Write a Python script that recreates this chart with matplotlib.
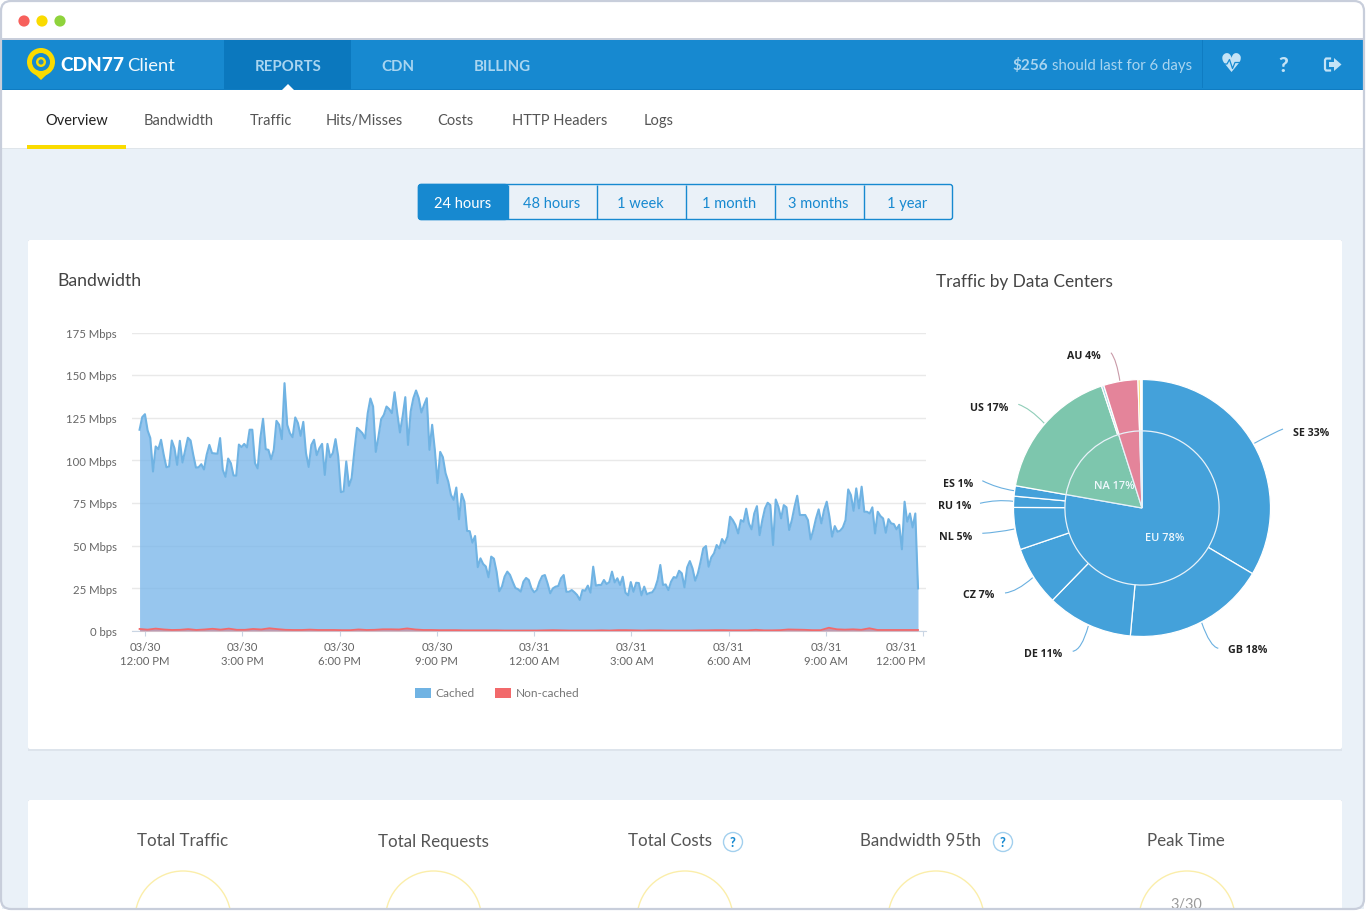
import numpy as np
import matplotlib
matplotlib.use("Agg")
import matplotlib.pyplot as plt
from matplotlib.patches import Rectangle, Circle, FancyBboxPatch, PathPatch, Polygon, Patch
from matplotlib.path import Path
from matplotlib.transforms import ScaledTranslation

W, H = 1366, 911
FONT = "Lato"
plt.rcParams["font.family"] = [FONT, "DejaVu Sans"]

# ---------------- data ----------------
cached_mbps = [
118.0,125.4,127.1,117.6,113.1,93.5,108.2,106.6,112.1,103.3,96.0,96.4,111.7,107.2,97.4,111.5,98.8,106.2,113.3,111.7,
103.3,95.8,96.0,97.8,94.7,103.3,109.1,104.3,104.1,103.9,113.1,94.5,90.4,101.1,98.4,91.2,91.0,109.3,107.8,109.7,
107.6,118.0,118.0,98.4,95.3,113.1,124.4,106.6,106.2,100.7,106.2,123.2,120.9,112.5,145.3,120.9,116.0,113.6,125.2,121.9,
114.4,122.6,104.3,96.2,109.1,112.1,103.1,107.2,109.7,91.5,109.7,101.9,104.3,112.5,102.3,81.4,81.8,99.4,85.1,89.6,
105.2,119.1,117.6,116.0,112.9,127.7,136.3,131.6,105.0,114.0,124.2,126.7,131.6,130.1,127.7,140.0,127.7,116.4,125.8,137.1,
109.1,128.7,136.5,141.0,136.5,128.1,132.6,136.5,106.2,120.9,106.2,86.7,105.0,101.9,92.5,87.6,79.8,76.9,84.1,65.5,
80.4,75.9,58.7,58.5,51.8,55.7,37.4,42.6,39.3,37.8,31.5,43.6,42.4,34.8,23.3,26.0,31.9,34.8,32.9,28.9,
25.2,24.5,23.1,28.9,31.1,
29.9,25.0,22.7,24.0,28.9,32.2,32.8,27.9,22.1,25.0,26.0,26.4,30.9,32.8,23.0,23.0,24.0,22.7,21.1,18.2,
24.0,23.6,26.6,22.5,37.7,26.6,27.0,27.0,29.9,27.5,28.7,34.8,28.5,30.9,27.0,31.8,22.5,20.9,28.7,23.0,
28.3,28.1,20.9,26.0,21.5,22.3,22.7,25.0,29.9,38.7,27.0,27.3,24.0,28.9,31.6,31.2,35.3,33.8,25.6,37.3,
41.0,36.7,29.5,33.8,40.6,48.4,49.8,37.7,43.2,45.5,50.4,48.4,53.9,51.4,55.3,67.0,65.0,62.1,57.2,65.0,
64.1,71.7,63.1,59.6,68.9,73.2,56.2,65.0,71.9,75.2,73.8,50.4,77.1,72.8,66.0,73.8,72.5,59.2,65.0,72.8,
79.3,68.0,68.0,68.0,65.0,53.7,59.2,66.0,71.3,63.1,70.9,75.8,67.0,55.3,61.5,58.2,58.8,60.7,65.0,83.0,
79.7,70.5,83.6,71.9,84.6,69.9,69.9,68.9,72.5,57.2,69.9,67.4,66.0,57.6,65.6,63.1,62.7,59.6,62.3,47.9,
75.8,64.1,68.9,60.7,68.9,25.0]

noncached_mbps = [
1.2,.8,1.4,.9,.6,.7,1.1,.6,.9,1.3,.8,1.4,.7,.7,1.2,.9,1.6,1.1,.7,.6,.6,.8,.6,.6,.6,.5,.5,.9,.6,.7,1.0,1.0,.9,1.5,.9,
.6,.6,.5,.5,.5,.4,.4,.4,.4,.4,.3,.3,.3,.3,
.3,.4,.5,.4,.3,.3,.3,.3,.4,.3,.5,.5,.4,.3,.4,.4,.3,.3,.3,.3,.4,.4,.5,.5,.4,.4,.4,.7,.4,.4,.5,.9,.8,.7,.5,.5,1.9,1.0,
.8,1.0,.7,1.6,.6,.6,.6,.6,.6,.6]

first_minute, last_minute = -10, 1430       # minutes after 03/30 12:00 PM
tick_minutes = [0, 180, 360, 540, 720, 900, 1080, 1260, 1440]
tick_labels = ["03/30\n12:00 PM", "03/30\n3:00 PM", "03/30\n6:00 PM", "03/30\n9:00 PM", "03/31\n12:00 AM",
               "03/31\n3:00 AM", "03/31\n6:00 AM", "03/31\n9:00 AM", "03/31\n12:00 PM"]
y_ticks = [0, 25, 50, 75, 100, 125, 150, 175]
y_labels = ["0 bps", "25 Mbps", "50 Mbps", "75 Mbps", "100 Mbps", "125 Mbps", "150 Mbps", "175 Mbps"]

region_names = ["EU 78%", "NA 17%", "AU", "AF", "rest"]
region_share = [77.8, 17.3, 4.4, 0.3, 0.2]
center_names = ["SE 33%", "GB 18%", "DE 11%", "CZ 7%", "NL 5%", "RU 1%", "ES 1%", "US 17%", "CA", "AU 4%", "ZA", "rest"]
center_share = [33.5, 17.9, 10.8, 7.5, 5.3, 1.4, 1.3, 17.1, 0.3, 4.3, 0.3, 0.2]

periods = ["24 hours", "48 hours", "1 week", "1 month", "3 months", "1 year"]
subnav = ["Overview", "Bandwidth", "Traffic", "Hits/Misses", "Costs", "HTTP Headers", "Logs"]
kpis = ["Total Traffic", "Total Requests", "Total Costs", "Bandwidth 95th", "Peak Time"]

# ---------------- colours ----------------
BLUE, BLUE_D = "#1789d0", "#0b78be"
NAV_TXT = "#a9d5f0"
PAGE = "#eaf1f8"
PIE_BLUE, PIE_GREEN, PIE_PINK, PIE_YEL = "#44a1da", "#7dc6ad", "#e4849a", "#f5dc6e"

fig = plt.figure(figsize=(W / 100, H / 100), dpi=100, facecolor="white")
page = fig.add_axes([0, 0, 1, 1], zorder=0)
page.set_xlim(0, W); page.set_ylim(H, 0); page.axis("off")

def px_axes(l, t, r, b, **kw):
    return fig.add_axes([l / W, 1 - b / H, (r - l) / W, (b - t) / H], **kw)

def rect(x0, y0, x1, y1, c, z=1, **kw):
    page.add_patch(Rectangle((x0, y0), x1 - x0, y1 - y0, fc=c, ec="none", zorder=z, **kw))

def txt(x, y, s, size_px, c="#444444", ha="left", weight="normal", z=5, family=None):
    return page.text(x, y, s, fontsize=size_px * 0.72, color=c, ha=ha, va="center_baseline", fontweight=weight, zorder=z,
                     family=family if family else [FONT, "DejaVu Sans"])

# window chrome
rect(2, 2, 1364, 38, "white")
rect(2, 38, 1364, 40, "#c8cedb")
rect(2, 149, 1364, 909, PAGE)
rect(2, 40, 1364, 90, BLUE)
rect(2, 88.5, 1364, 90, "#0f7cc2", z=2)
rect(2, 90, 1364, 148, "white")
rect(2, 148, 1364, 149, "#dfe5ea")
rect(224, 40, 351, 89, BLUE_D, z=2)
page.add_patch(Polygon([(282, 90), (288, 84), (294, 90)], fc="white", ec="none", zorder=3))
rect(1202, 40, 1203, 88, "#0f7cc2", z=2)

for x, c in zip([24, 42, 60], ["#f7605c", "#fadb00", "#8fd33c"]):
    page.add_patch(Circle((x, 21), 5.6, fc=c, ec="none", zorder=3))

# logo
page.add_patch(Polygon([(28.5, 68), (41, 80), (53.5, 68)], fc="#fadb00", ec="none", zorder=3))
page.add_patch(Circle((41, 62), 14, fc="#fadb00", ec="none", zorder=3))
page.add_patch(Circle((41, 62), 9, fc=BLUE, ec="none", zorder=4))
page.add_patch(Circle((41, 62), 5, fc="#fadb00", ec="none", zorder=4))
page.add_patch(Circle((41, 62), 2.6, fc="#2d8fc0", ec="none", zorder=4))
txt(60.5, 64.3, "CDN77", 19, "white", weight="black")
txt(127.5, 64.3, "Client", 18.4, "#f2f9fd", weight="normal")

# top nav
for x, s in zip([255, 381, 473.5], ["REPORTS", "CDN", "BILLING"]):
    txt(x, 65.2, s, 15, NAV_TXT, weight="bold")
txt(1012, 64.3, "$256", 15.3, NAV_TXT, weight="bold")
txt(1052.5, 64.3, "should last for 6 days", 15, NAV_TXT)
# icons
page.text(1231, 65.5, "\u2665", fontsize=18.5, color="#c4e3f6", ha="center", va="center", family="DejaVu Sans", zorder=5)
page.plot([1222, 1227, 1229.5, 1232.5, 1235, 1240], [64, 64, 59.5, 68.5, 62.5, 62.5], color=BLUE, lw=0.9, zorder=6)
txt(1283, 64.5, "?", 21, "#c4e3f6", ha="center", weight="black")
page.plot([1330, 1326, 1325, 1325, 1326, 1330], [58.5, 58.5, 60, 69, 70.5, 70.5], color="#c4e3f6", lw=1.6, zorder=6)
page.add_patch(Polygon([(1329, 62), (1334, 62), (1334, 58), (1341.5, 64.5), (1334, 71), (1334, 67), (1329, 67)],
                       fc="#c4e3f6", ec="none", zorder=6))

# sub nav
sub_x = [45, 144, 250, 326, 437.5, 511.5, 644]
for i, (x, s) in enumerate(zip(sub_x, subnav)):
    txt(x, 119.2, s, 14.6, "#222222" if i == 0 else "#555555")
rect(27, 145, 126, 148.5, "#fadb00", z=3)

# period buttons
page.add_patch(FancyBboxPatch((418.5, 184.5), 534, 35, boxstyle="round,pad=0,rounding_size=2.5",
                              fc=PAGE, ec=BLUE, lw=1, zorder=2))
page.add_patch(FancyBboxPatch((418.5, 184.5), 89, 35, boxstyle="round,pad=0,rounding_size=2.5",
                              fc=BLUE, ec=BLUE, lw=1, zorder=3))
rect(502, 185, 507.5, 219.5, BLUE, z=3)
for i, s in enumerate(periods):
    cx = [462.5, 551.5, 640, 729, 818.5, 907.5][i]
    txt(cx, 202.4, s, 14.6, "white" if i == 0 else BLUE, ha="center")
    if i:
        page.plot([418.5 + 89 * i] * 2, [185, 219], color=BLUE, lw=1, zorder=3, solid_capstyle="butt")

# cards
for top, bot in [(240, 749), (800, 925)]:
    rect(28, top, 1342, bot + 1.5, "#dde4ec", z=1.5)
    page.add_patch(FancyBboxPatch((28, top), 1314, bot - top, boxstyle="round,pad=0,rounding_size=2",
                                  fc="white", ec="none", zorder=2))
txt(57.5, 280, "Bandwidth", 17.6, "#444444")
txt(936, 280, "Traffic by Data Centers", 17.3, "#444444")

# KPI row
kpi_x = [183, 433.5, 669.5, 920.5, 1186]
kpi_c = [183, 433.5, 685, 936, 1187]
for x, c, s in zip(kpi_x, kpi_c, kpis):
    txt(x, 840, s, 17, "#555555", ha="center")
    page.add_patch(Circle((c, 919), 48, fc="none", ec="#fbeeaa", lw=1, zorder=3))
for x in [733, 1003]:
    page.add_patch(Circle((x, 842), 9.5, fc="white", ec="#a3d0ee", lw=1, zorder=3))
    txt(x, 842, "?", 12.5, BLUE, ha="center", weight="black")
txt(1186.5, 903.3, "3/30", 14.5, "#9a9a9a", ha="center")

# window frame above everything on the page
rect(0, 909, W, H, "white", z=8)
rect(1364.5, 0, W, H, "white", z=8)
page.add_patch(FancyBboxPatch((1, 1), 1363, 908, boxstyle="round,pad=0,rounding_size=10",
                              fc="none", ec="#c8cedb", lw=1.6, zorder=9))

# ---------------- area chart ----------------
ax = px_axes(132, 332.5, 926, 631, zorder=2)
ax.patch.set_alpha(0)
minutes = np.linspace(first_minute, last_minute, len(cached_mbps))
minutes_nc = np.linspace(first_minute, last_minute, len(noncached_mbps))
ax.fill_between(minutes, cached_mbps, 0, color="#7db8ea", alpha=0.8, lw=0, zorder=2)
ax.plot(minutes, cached_mbps, color="#70b3e3", lw=1.5, zorder=3)
ax.fill_between(minutes_nc, noncached_mbps, 0, color="#f45b5b", alpha=0.4, lw=0, zorder=4)
ax.plot(minutes_nc, noncached_mbps, color="#f2696b", lw=1.3, zorder=5)
ax.set_xlim(-24, 1444.8)
ax.set_ylim(0, 175)
ax.set_yticks(y_ticks, y_labels)
ax.set_xticks(tick_minutes, tick_labels)
ax.grid(axis="y", color="#e9e9e9", lw=1, zorder=1)
ax.set_axisbelow(True)
for sp in ["top", "left", "right"]:
    ax.spines[sp].set_visible(False)
ax.spines["bottom"].set_color("#c9d5e3")
ax.tick_params(axis="y", length=0, pad=10.8, labelsize=8.2, labelcolor="#666666")
ax.tick_params(axis="x", length=3.8, width=0.8, color="#c9d5e3", pad=4, labelsize=8.2, labelcolor="#666666")
for lb in ax.get_xticklabels():
    lb.set_linespacing(1.38)
for lb in ax.get_yticklabels():
    lb.set_transform(lb.get_transform() + ScaledTranslation(0, -0.7 / 100, fig.dpi_scale_trans))
last = ax.get_xticklabels()[-1]
last.set_ha("right")
last.set_multialignment("center")
last.set_transform(last.get_transform() + ScaledTranslation(2.5 / 100, 0, fig.dpi_scale_trans))

ax.legend(handles=[Patch(fc="#70b3e3", label="Cached"), Patch(fc="#f2696b", label="Non-cached")],
          loc="center", bbox_to_anchor=(497 / W, 1 - 693.5 / H), bbox_transform=fig.transFigure, ncol=2,
          frameon=False, fontsize=8.6, labelcolor="#777777", handlelength=1.35, handleheight=0.9,
          handletextpad=0.4, columnspacing=1.65, borderpad=0)

# ---------------- nested pie ----------------
pie_ax = px_axes(1013.5, 379.5, 1270.5, 636.5, zorder=3)
pie_ax.patch.set_alpha(0)
outer_cols = [PIE_BLUE] * 7 + [PIE_GREEN, "#a8d6e6", PIE_PINK, PIE_YEL, "white"]
inner_cols = [PIE_BLUE, PIE_GREEN, PIE_PINK, PIE_YEL, "white"]
pie_ax.pie(center_share, radius=1, colors=outer_cols, startangle=90, counterclock=False,
           wedgeprops=dict(edgecolor="white", linewidth=0.9))
pie_ax.pie(region_share, radius=0.6, colors=inner_cols, startangle=90, counterclock=False,
           wedgeprops=dict(edgecolor="#e8f2f9", linewidth=0.9))
pie_ax.set_xlim(-1, 1); pie_ax.set_ylim(-1, 1)
for p in pie_ax.patches:
    p.set_clip_on(False)

label_xy = [(1311, 432.2), (1248, 649.2), (1043, 653.2), (979, 594.2), (956, 536.2), (955, 505.2), (958, 483.2),
            (989.5, 406.7), None, (1084, 355.2), None, None]
for name, xy in zip(center_names, label_xy):
    if xy:
        txt(xy[0], xy[1], name, 10.6, "#222222", ha="center", weight="bold", family="Open Sans").set_zorder(6)
region_xy = [(1165, 538.5), (1114.5, 486)]
pie_txt = [pie_ax.text((x - 1142) / 128.5, (508 - y) / 128.5, n, fontsize=7.9, color="#f0f8fd", ha="center", va="center",
                       family="Open Sans", fontweight=600, zorder=10)
           for n, (x, y) in zip(region_names, region_xy)]

connectors = [((1254.3, 443.3), (1275, 432), (1283, 429), "#6ab0e0"),
              ((1120, 381.7), (1116.7, 360), (1111, 352.7), "#c99aa8"),
              ((1044.3, 423.3), (1030, 408.3), (1018.3, 404.3), "#8fcdb8"),
              ((1014, 490.7), (996.7, 488), (982.3, 480.7), "#6ab0e0"),
              ((1013.3, 501.3), (996.7, 499.3), (980, 503.3), "#6ab0e0"),
              ((1014.3, 529), (996.7, 532.7), (982.3, 533.3), "#6ab0e0"),
              ((1032.7, 577.7), (1016.7, 591.7), (1005, 593), "#6ab0e0"),
              ((1088.3, 626), (1081.7, 650), (1072.7, 651.3), "#6ab0e0"),
              ((1201.7, 622.7), (1210, 646.7), (1218.3, 648.3), "#6ab0e0")]
for a, b, c, col in connectors:
    page.add_patch(PathPatch(Path([a, b, c], [Path.MOVETO, Path.CURVE3, Path.CURVE3]),
                             fc="none", ec=col, lw=0.8, zorder=4))

fig.savefig("out.png", dpi=100)
